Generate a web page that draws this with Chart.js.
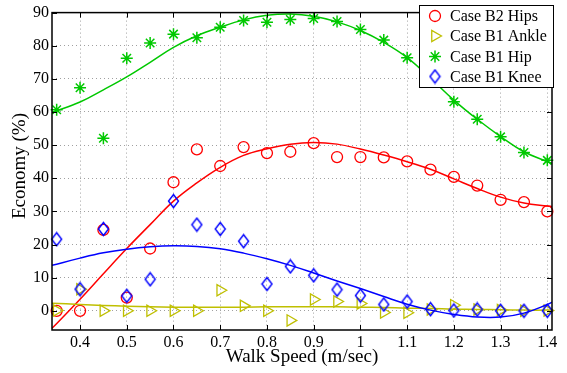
<!DOCTYPE html>
<html><head><meta charset="utf-8">
<script src="https://cdn.jsdelivr.net/npm/chart.js@4/dist/chart.umd.min.js"></script>
<style>html,body{margin:0;padding:0;background:#fff}#wrap{width:567px;height:373px}</style>
</head><body><div id="wrap"><canvas id="c" width="567" height="373"></canvas></div>
<script>
// ---- data ----
const speeds   = [0.35,0.40,0.45,0.50,0.55,0.60,0.65,0.70,0.75,0.80,0.85,0.90,0.95,1.00,1.05,1.10,1.15,1.20,1.25,1.30,1.35,1.40];
const b2Hips   = [0.0,0.0,24.4,4.0,18.8,38.8,48.7,43.7,49.4,47.6,48.0,50.6,46.4,46.4,46.3,45.1,42.6,40.4,37.8,33.5,32.8,30.0];
const b1Ankle  = [0.1,6.5,0.0,0.0,0.0,0.0,0.0,6.2,1.5,0.0,-2.9,3.4,2.8,2.2,-0.5,-0.6,0.4,1.7,0.4,0.2,0.0,0.1];
const b1Hip    = [60.7,67.3,52.1,76.2,80.8,83.5,82.4,85.6,87.6,87.1,87.9,88.2,87.3,84.9,81.7,76.4,70.5,63.1,57.8,52.5,47.8,45.4];
const b1Knee   = [21.6,6.5,24.7,4.5,9.5,33.1,26.0,24.7,21.0,8.1,13.4,10.7,6.4,4.6,1.9,2.8,0.5,0.1,0.4,0.0,0.0,0.0];

// fitted curves
const fitSpeeds   = [0.34,0.40,0.45,0.50,0.55,0.60,0.65,0.70,0.75,0.80,0.85,0.90,0.95,1.00,1.05,1.10,1.15,1.20,1.25,1.30,1.35,1.40,1.41];
const b2HipsFit   = [-5.3,3.5,11.2,18.8,26.0,33.1,38.6,43.3,46.9,48.9,50.3,50.8,50.3,48.8,47.0,45.0,42.7,39.8,36.9,34.3,32.5,31.6,31.5];
const b1AnkleFit  = [2.3,1.9,1.6,1.4,1.2,1.1,1.1,1.1,1.1,1.2,1.2,1.2,1.2,1.1,1.0,0.8,0.7,0.5,0.4,0.3,0.2,0.2,0.2];
const b1HipFit    = [59.9,63.0,66.7,70.6,75.0,79.5,83.0,85.6,87.8,89.2,89.6,88.9,87.2,84.6,81.0,76.4,70.2,63.6,57.8,52.6,48.0,45.0,44.5];
const b1KneeFit   = [13.7,15.9,17.5,18.6,19.3,19.6,19.4,18.7,17.4,15.7,13.7,11.4,9.0,6.7,4.3,2.0,0.2,-1.1,-1.9,-1.9,-0.7,1.9,2.6];

const seriesNames = ['Case B2 Hips','Case B1 Ankle','Case B1 Hip','Case B1 Knee'];
const xTickValues = [0.4,0.5,0.6,0.7,0.8,0.9,1.0,1.1,1.2,1.3,1.4];
const xTickLabels = ['0.4','0.5','0.6','0.7','0.8','0.9','1','1.1','1.2','1.3','1.4'];
const yTickValues = [0,10,20,30,40,50,60,70,80,90];
const xTitle = 'Walk Speed (m/sec)';
const yTitle = 'Economy (%)';

// ---- styles ----
const RED='#ff0000', OLIVE='#bfbf00', GREEN='#00c800', BLUE='#0000ff';
const FONT='"Liberation Serif", "Times New Roman", serif';

function diamondCanvas(color){
  const c=document.createElement('canvas'); c.width=13; c.height=16;
  const g=c.getContext('2d'); g.strokeStyle=color; g.lineWidth=1.4;
  g.beginPath(); g.moveTo(6.5,1.5); g.lineTo(11.5,8); g.lineTo(6.5,14.5); g.lineTo(1.5,8); g.closePath(); g.stroke();
  return c;
}
const diamond = diamondCanvas(BLUE);

const markerStyles = [
  {pointStyle:'circle', radius:5.5, rotation:0, color:RED, borderWidth:1.3},
  {pointStyle:'triangle', radius:6.5, rotation:90, color:OLIVE, borderWidth:1.3},
  {pointStyle:'star', radius:6, rotation:0, color:GREEN, borderWidth:1.5},
  {pointStyle:diamond, radius:6, rotation:0, color:BLUE, borderWidth:1.3}
];
const pointSets = [b2Hips,b1Ankle,b1Hip,b1Knee];
const fitSets = [b2HipsFit,b1AnkleFit,b1HipFit,b1KneeFit];

const datasets=[];
pointSets.forEach((vals,i)=>{
  const m=markerStyles[i];
  datasets.push({
    label:seriesNames[i], data:speeds.map((s,k)=>({x:s,y:vals[k]})),
    showLine:false, pointStyle:m.pointStyle, pointRadius:m.radius, pointRotation:m.rotation,
    pointBorderColor:m.color, pointBackgroundColor:'rgba(0,0,0,0)', pointBorderWidth:m.borderWidth,
    borderColor:m.color, clip:false, order:10-i*2
  });
  datasets.push({
    label:seriesNames[i]+' fit', data:fitSpeeds.map((s,k)=>({x:s,y:fitSets[i][k]})),
    showLine:true, pointRadius:0, borderColor:m.color, borderWidth:1.5, tension:0.4,
    fill:false, order:9-i*2
  });
});

const decor = {
  id:'decor',
  afterDraw(chart){
    const ctx=chart.ctx, a=chart.chartArea, xs=chart.scales.x, ys=chart.scales.y;
    ctx.save();
    // frame
    ctx.strokeStyle='#000'; ctx.lineWidth=1.5;
    ctx.strokeRect(a.left, a.top, a.right-a.left, a.bottom-a.top);
    // inward ticks
    ctx.lineWidth=1;
    ctx.beginPath();
    xTickValues.forEach(v=>{const p=Math.round(xs.getPixelForValue(v))+0.5;
      ctx.moveTo(p,a.bottom); ctx.lineTo(p,a.bottom-5); ctx.moveTo(p,a.top); ctx.lineTo(p,a.top+5);});
    yTickValues.forEach(v=>{const p=Math.round(ys.getPixelForValue(v))+0.5;
      ctx.moveTo(a.left,p); ctx.lineTo(a.left+5,p); ctx.moveTo(a.right,p); ctx.lineTo(a.right-5,p);});
    ctx.stroke();
    // axis titles
    ctx.fillStyle='#000'; ctx.font='19px '+FONT; ctx.textAlign='center'; ctx.textBaseline='middle';
    ctx.fillText(xTitle,(a.left+a.right)/2,357);
    ctx.save(); ctx.translate(20,166); ctx.rotate(-Math.PI/2); ctx.fillText(yTitle,0,0); ctx.restore();
    // legend
    const lx=419.5, ly=5.5, lw=134, lh=82;
    ctx.fillStyle='#fff'; ctx.fillRect(lx,ly,lw,lh);
    ctx.strokeStyle='#000'; ctx.lineWidth=1; ctx.strokeRect(lx,ly,lw,lh);
    const rows=[16,36,56.5,76.5];
    ctx.font='16px '+FONT; ctx.textAlign='left'; ctx.textBaseline='middle';
    seriesNames.forEach((n,i)=>{
      const m=markerStyles[i];
      ctx.strokeStyle=m.color; ctx.fillStyle='rgba(0,0,0,0)'; ctx.lineWidth=m.borderWidth;
      Chart.helpers.drawPoint(ctx,{pointStyle:m.pointStyle,radius:m.radius,rotation:m.rotation,borderWidth:m.borderWidth},435,rows[i]);
      ctx.fillStyle='#000'; ctx.fillText(n,450,rows[i]+1);
    });
    ctx.restore();
  }
};

new Chart(document.getElementById('c'),{
  type:'scatter',
  data:{datasets},
  options:{
    responsive:false, animation:false, devicePixelRatio:1,
    layout:{padding:{left:0,right:15,top:5,bottom:0}},
    plugins:{legend:{display:false},tooltip:{enabled:false}},
    scales:{
      x:{type:'linear',min:0.34,max:1.41,
        afterBuildTicks(s){s.ticks=xTickValues.map(v=>({value:v}));},
        afterFit(s){s.height=43;},
        ticks:{callback:(v,i)=>xTickLabels[i],font:{family:FONT,size:16},color:'#000',padding:3,maxRotation:0,autoSkip:false},
        grid:{color:'#a0a0a0',lineWidth:1,drawTicks:false},
        border:{display:false,dash:[1,3]}
      },
      y:{type:'linear',min:-5.8,max:90,
        afterBuildTicks(s){s.ticks=yTickValues.map(v=>({value:v}));},
        afterFit(s){s.width=52;},
        ticks:{callback:v=>String(v),font:{family:FONT,size:16},color:'#000',padding:3,autoSkip:false},
        grid:{color:'#a0a0a0',lineWidth:1,drawTicks:false},
        border:{display:false,dash:[1,3]}
      }
    }
  },
  plugins:[decor]
});
</script></body></html>
